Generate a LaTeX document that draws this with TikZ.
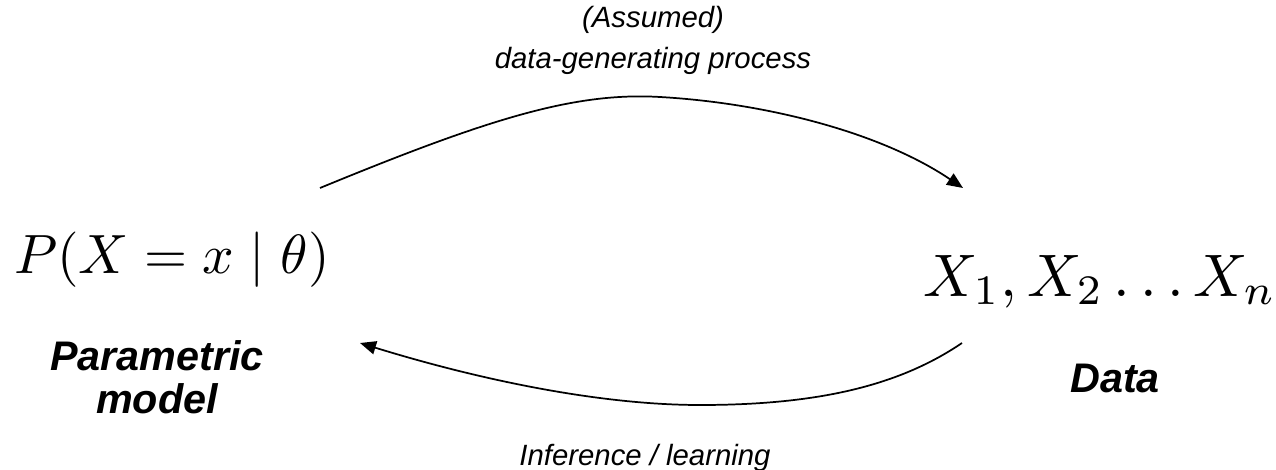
\documentclass[tikz,border=0pt]{standalone}
\usepackage{graphicx}
\usepackage{fontspec}
\setmainfont{Liberation Sans}
\usetikzlibrary{arrows.meta}
\begin{document}
\begin{tikzpicture}[x=0.75pt,y=-0.75pt,
  lbltext/.style={font=\fontsize{22}{31}\selectfont\itshape, align=center},
  captext/.style={font=\fontsize{31}{32}\selectfont\bfseries\itshape, align=center},
  arcarrow/.style={line width=1.3pt, -{Triangle[length=12pt,width=10pt]}}]
\useasboundingbox (0,0) rectangle (1276,470);
\node[anchor=base] (pm) at (172,273) {\scalebox{4.15}{$P(X = x \mid \theta)$}};
\node[anchor=base] (dx) at (1100,296) {\scalebox{4.5}{$X_1, X_2 \ldots X_n$}};
\node[captext, anchor=base] (pmname) at (157,413) {Parametric\\model};
\node[captext, anchor=base] (dname) at (1115,392) {Data};
\node[lbltext, anchor=base] (top) at (653,69) {(Assumed)\\data-generating process};
\node[lbltext, anchor=base] (bot) at (645,465) {Inference / learning};
\coordinate (s1) at (320,188);
\coordinate (e1) at (963,188);
\coordinate (s2) at (962,343);
\coordinate (e2) at (360,343);
\draw[arcarrow] (s1) .. controls (490,118) and (575,92) .. (660,97) .. controls (765,103) and (880,132) .. (e1);
\draw[arcarrow] (s2) .. controls (900,385) and (820,405) .. (700,405) .. controls (600,405) and (480,380) .. (e2);
\end{tikzpicture}
\end{document}
